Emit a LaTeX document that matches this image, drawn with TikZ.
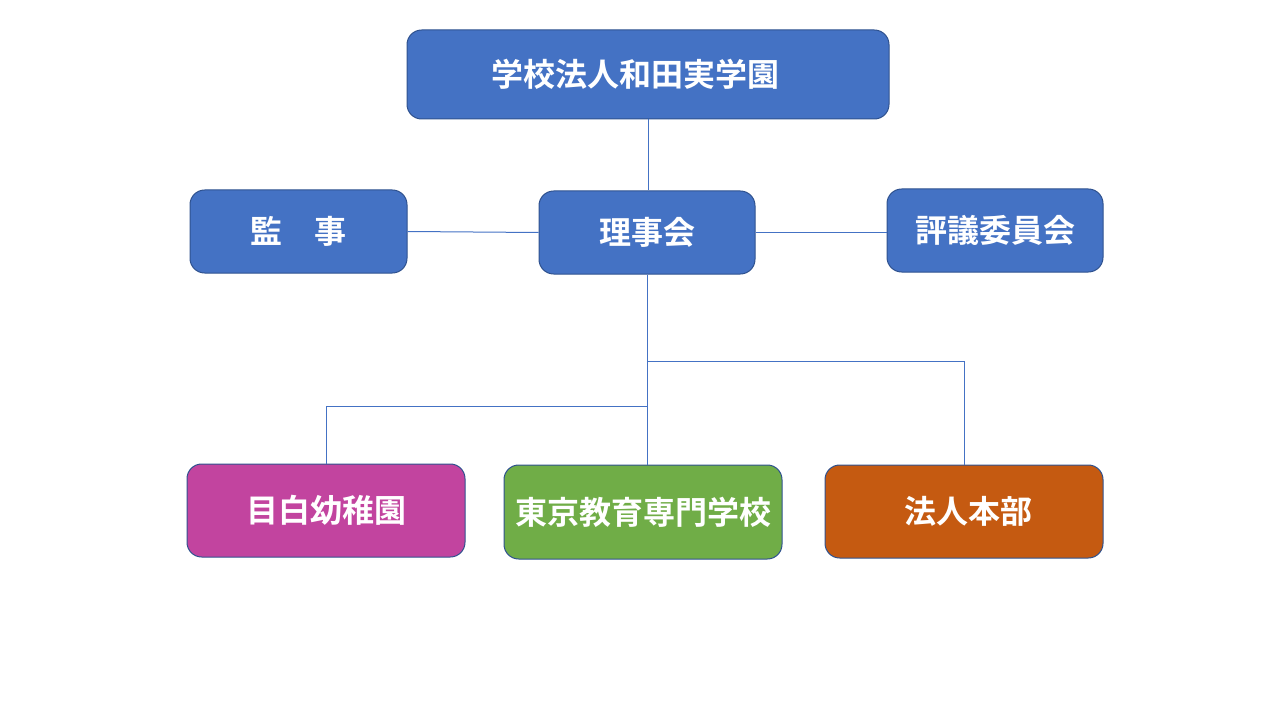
\documentclass[tikz,border=0pt]{standalone}
\usepackage{fontspec}
\newfontfamily\jpfont{Noto Sans CJK JP}[BoldFont={* Bold}]
\definecolor{boxblue}{HTML}{4472C4}
\definecolor{edgeblue}{HTML}{2F528F}
\definecolor{boxmag}{HTML}{C2449F}
\definecolor{boxgreen}{HTML}{70AD47}
\definecolor{boxorange}{HTML}{C55A11}
\begin{document}
\begin{tikzpicture}[x=0.75pt,y=-0.75pt,
  orgbox/.style={draw=edgeblue,line width=0.75pt,rounded corners=11pt,text=white,
    font=\jpfont\bfseries\fontsize{24}{28}\selectfont,inner sep=0pt},
  conn/.style={draw=boxblue,line width=0.75pt}]
\useasboundingbox (0,0) rectangle (1280,720);
\node[orgbox,fill=boxblue,minimum width=482*0.75pt,minimum height=89*0.75pt] (top) at (648,74.5) {\kern-19.5pt 学校法人和田実学園};
\node[orgbox,fill=boxblue,minimum width=217*0.75pt,minimum height=83*0.75pt] (kanji) at (298.5,231.5) {監　事};
\node[orgbox,fill=boxblue,minimum width=216*0.75pt,minimum height=83*0.75pt] (riji) at (647,232.5) {理事会};
\node[orgbox,fill=boxblue,minimum width=216*0.75pt,minimum height=83*0.75pt] (hyogi) at (995,230.5) {評議委員会};
\node[orgbox,fill=boxmag,minimum width=278*0.75pt,minimum height=93*0.75pt] (mejiro) at (326,510.5) {目白幼稚園};
\node[orgbox,fill=boxgreen,minimum width=278*0.75pt,minimum height=94*0.75pt] (tokyo) at (643,512) {東京教育専門学校};
\node[orgbox,fill=boxorange,minimum width=278*0.75pt,minimum height=93*0.75pt] (honbu) at (964,511.5) {法人本部\kern-6pt};
\coordinate (j1) at (647,361);
\coordinate (j2) at (647,406);
\draw[conn] (top.south -| 648,0) -- (riji.north -| 648,0);
\draw[conn] (kanji.east) -- (riji.west);
\draw[conn] (riji.east) -- (hyogi.west |- riji.east);
\draw[conn] (riji.south) -- (tokyo.north -| riji.south);
\draw[conn] (j1) -- (j1 -| honbu.north) -- (honbu.north);
\draw[conn] (j2) -- (j2 -| mejiro.north) -- (mejiro.north);
\end{tikzpicture}
\end{document}
